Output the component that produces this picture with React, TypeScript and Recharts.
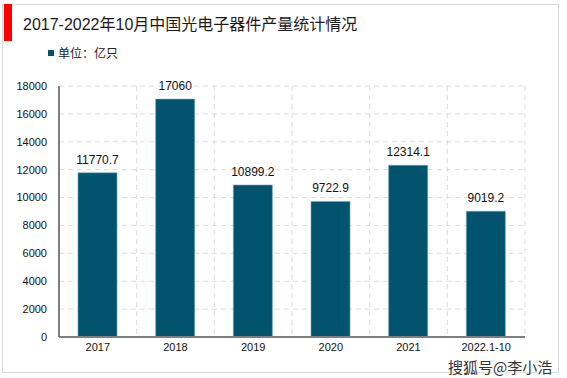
import React from 'react';
import { BarChart, Bar, XAxis, YAxis, CartesianGrid, LabelList } from 'recharts';

const categories = ['2017', '2018', '2019', '2020', '2021', '2022.1-10'];
const output = [11770.7, 17060, 10899.2, 9722.9, 12314.1, 9019.2];
const yTicks = [0, 2000, 4000, 6000, 8000, 10000, 12000, 14000, 16000, 18000];

const data = categories.map((name, i) => ({ name, value: output[i] }));

const FONT = '"Liberation Sans", Arial, "Noto Sans CJK SC", sans-serif';
const BAR = '#02536e';

export default function App() {
  return (
    <div style={{ position: 'absolute', left: 0, top: 0, width: 567, height: 378, background: '#fff', fontFamily: FONT }}>
      <div style={{ position: 'absolute', left: 2, top: 4, width: 557, height: 369, border: '1px solid #d9d9d9', boxSizing: 'border-box' }} />
      <div style={{ position: 'absolute', left: 4, top: 4, width: 8, height: 37, background: '#ff0000' }} />
      <div style={{ position: 'absolute', left: 23, top: 11, fontSize: 16, color: '#1a1a1a', whiteSpace: 'nowrap' }}>
        2017-2022年10月中国光电子器件产量统计情况
      </div>
      <div style={{ position: 'absolute', left: 48, top: 44, fontSize: 12, color: '#222', display: 'flex', alignItems: 'center' }}>
        <span style={{ display: 'inline-block', width: 6, height: 6, background: BAR, marginRight: 4 }} />
        单位：亿只
      </div>
      <BarChart
        width={567}
        height={378}
        data={data}
        margin={{ top: 86, right: 42, bottom: 21, left: 0 }}
        style={{ position: 'absolute', left: 0, top: 0 }}
      >
        <CartesianGrid
          stroke="#dcdcdc"
          strokeDasharray="5 4"
          verticalCoordinatesGenerator={({ offset }: any) =>
            categories.map((_, i) => offset.left + ((i + 1) * offset.width) / categories.length)
          }
        />
        <XAxis
          dataKey="name"
          axisLine={{ stroke: '#7f7f7f', strokeWidth: 2 }}
          tickLine={false}
          tick={{ fill: '#111', fontSize: 11, fontFamily: FONT }}
          interval={0}
          height={20}
          tickMargin={0}
        />
        <YAxis
          width={59}
          domain={[0, 18000]}
          ticks={yTicks}
          axisLine={{ stroke: '#7f7f7f', strokeWidth: 2 }}
          tickLine={false}
          tick={{ fill: '#111', fontSize: 11, fontFamily: FONT }}
          tickMargin={6}
        />
        <Bar dataKey="value" fill={BAR} stroke="#6fa3b5" strokeWidth={0.6} barSize={39} isAnimationActive={false}>
          <LabelList dataKey="value" position="top" offset={9} fill="#111" fontSize={12} fontFamily={FONT} />
        </Bar>
      </BarChart>
      <div
        style={{
          position: 'absolute',
          left: 448,
          top: 359,
          fontSize: 15,
          lineHeight: 1,
          color: '#333',
          whiteSpace: 'nowrap',
          fontFamily: '"Noto Sans CJK SC", sans-serif',
          textShadow: '0 0 2px #fff, 0 0 2px #fff',
        }}
      >
        搜狐号@李小浩
      </div>
    </div>
  );
}
